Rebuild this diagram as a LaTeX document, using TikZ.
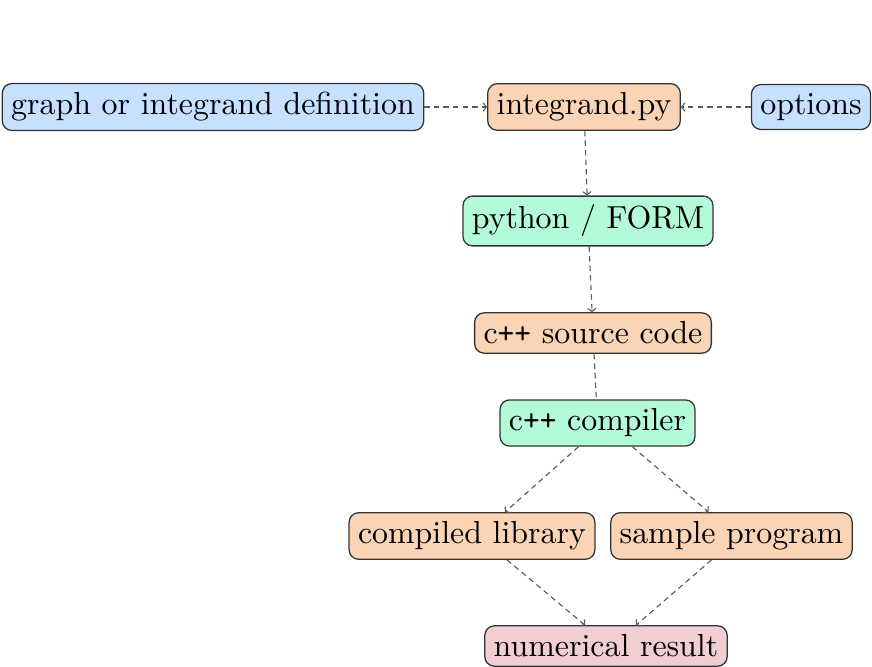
\documentclass[tikz,border=0pt]{standalone}
\usepackage{tikz}
\usetikzlibrary{arrows.meta,calc}

\definecolor{inputblue}{RGB}{198,224,255}
\definecolor{filepeach}{RGB}{250,212,180}
\definecolor{toolmint}{RGB}{178,250,216}
\definecolor{resultpink}{RGB}{240,206,210}

\newcommand{\cpp}{c\texttt{++}}

\begin{document}
\begin{tikzpicture}[
    x=0.3135pt, y=-0.3135pt,
    box/.style={draw=black!80, rounded corners=3pt, inner sep=2.8pt, align=center},
    inbox/.style={box, fill=inputblue},
    filebox/.style={box, fill=filepeach},
    toolbox/.style={box, fill=toolmint},
    resbox/.style={box, fill=resultpink},
    link/.style={dash pattern=on 1.7pt off 1.3pt, black!65, line width=0.35pt},
    arrow/.style={link, -{Straight Barb[length=1pt,width=2.6pt]}}
]
\useasboundingbox (0,0) rectangle (872,667);
\node[inbox] (graphdef) at (213,107) {graph or integrand definition};
\node[filebox] (integrand) at (584,107) {integrand.py};
\node[inbox] (options) at (811,107) {options};
\node[toolbox] (form) at (588,221) {python / FORM};
\node[filebox] (source) at (593,333) {\cpp{} source code};
\node[toolbox] (compiler) at (597.5,423) {\cpp{} compiler};
\node[filebox] (library) at (472,536) {compiled library};
\node[filebox] (program) at (731.5,536) {sample program};
\node[resbox] (result) at (606,646) {numerical result};
\draw[arrow] (graphdef) -- (integrand);
\draw[arrow] (options) -- (integrand);
\draw[arrow] (integrand) -- (form);
\draw[arrow] (form) -- (source);
\draw[link] (source) -- (compiler);
\draw[arrow] ($(compiler.south)+(-19,0)$) -- ($(library.north)+(33,0)$);
\draw[arrow] ($(compiler.south)+(35,0)$) -- ($(program.north)+(-23,0)$);
\draw[arrow] ($(library.south)+(35,0)$) -- ($(result.north)+(-21,0)$);
\draw[arrow] ($(program.south)+(-20,0)$) -- ($(result.north)+(30,0)$);
\end{tikzpicture}
\end{document}
